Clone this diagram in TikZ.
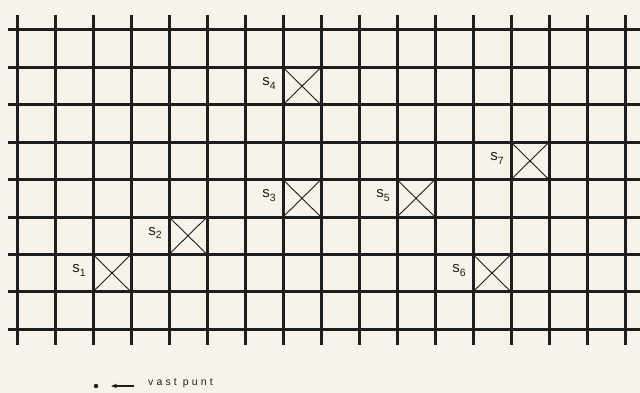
\documentclass[tikz,border=0pt]{standalone}
\usepackage{fontspec}
\setmainfont{Liberation Sans}
\newfontfamily\spacedfont[LetterSpace=30]{Liberation Sans}
\usetikzlibrary{arrows.meta}
\definecolor{paper}{HTML}{F7F2EA}
\definecolor{ink}{HTML}{1E1E1C}
\tikzset{
  gridline/.style={draw=ink, line width=3pt},
  crossline/.style={draw=ink, line width=0.9pt},
  slabel/.style={anchor=east, inner sep=0pt, font=\fontsize{15}{15}\selectfont, text=ink},
}
\newcommand{\slab}[1]{s\raisebox{-0.45ex}{\fontsize{10.5}{10.5}\selectfont #1}}
\begin{document}
\begin{tikzpicture}[x=1pt,y=-1pt]
  \fill[paper] (0,0) rectangle (640,393);
  \useasboundingbox (0,0) rectangle (640,393);
  % vertical lines
  \foreach \i in {0,...,16} {
    \draw[gridline] ({17+38*\i},15) -- ({17+38*\i},345);
  }
  % horizontal lines
  \foreach \j in {0,...,8} {
    \draw[gridline] (8,{30+37.4*\j}) -- (640,{30+37.4*\j});
  }
  % crossed cells: (i,j) -> cell between vertical i,i+1 and horizontal j,j+1
  \foreach \i/\j/\n in {2/6/1, 4/5/2, 7/4/3, 7/1/4, 10/4/5, 12/6/6, 13/3/7} {
    \coordinate (c\n a) at ({17+38*\i},{30+37.4*\j});
    \coordinate (c\n b) at ({17+38*(\i+1)},{30+37.4*(\j+1)});
    \coordinate (c\n c) at ({17+38*(\i+1)},{30+37.4*\j});
    \coordinate (c\n d) at ({17+38*\i},{30+37.4*(\j+1)});
    \draw[crossline] (c\n a) -- (c\n b);
    \draw[crossline] (c\n c) -- (c\n d);
    \node[slabel] (s\n) at ({17+38*\i-7},{30+37.4*\j+16}) {\slab{\n}};
  }
  % legend
  \node[circle, fill=ink, inner sep=0pt, minimum size=4.5pt] (dot) at (96,386) {};
  \node[anchor=west, inner sep=0pt, font=\spacedfont\fontsize{10.5}{10.5}\selectfont, text=ink] (vp) at (148,383) {vast punt};
  \coordinate (arrs) at (134,386);
  \coordinate (arre) at (111,386);
  \draw[ink, line width=1.2pt, -{Stealth[length=6pt,width=4.5pt]}] (arrs) -- (arre);
\end{tikzpicture}
\end{document}
